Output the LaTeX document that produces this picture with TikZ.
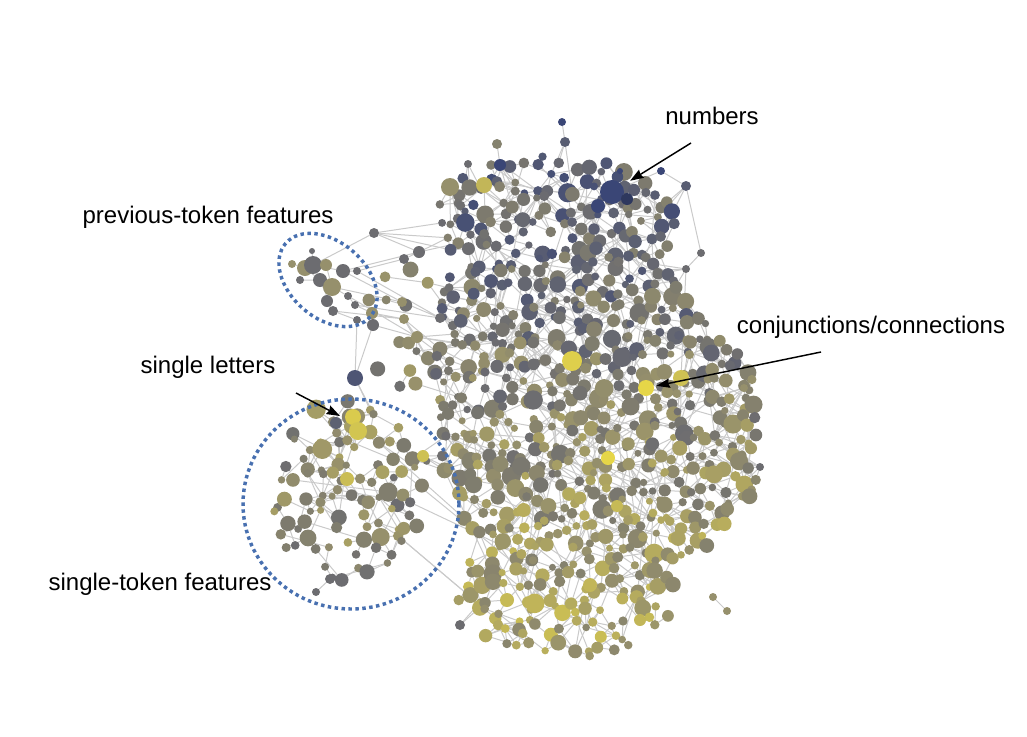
\documentclass[tikz,border=0pt]{standalone}
\usepackage{fontspec}
\setmainfont{Liberation Sans}
\usetikzlibrary{arrows.meta}

\definecolor{navyDot}{RGB}{58,70,118}
\definecolor{grayDot}{RGB}{108,108,112}
\definecolor{oliveDot}{RGB}{150,144,108}
\definecolor{yellowDot}{RGB}{230,214,72}
\definecolor{ringBlue}{RGB}{72,112,176}
\definecolor{linkGray}{RGB}{202,202,202}

\pgfdeclarelayer{background}
\pgfsetlayers{background,main}

\tikzset{%
	% Specifications for the graph:
	featureDot/.style = {circle, inner sep=0pt, outer sep=0pt, draw=none},
	linkLine/.style = {linkGray, line width=0.75pt},
	% Specifications for the annotations:
	clusterRing/.style = {ringBlue, line width=2.6pt, dash pattern=on 2.6pt off 2.6pt},
	calloutArrow/.style = {-{Stealth[length=10pt, width=7pt, inset=1pt]}, line width=1.1pt, black},
	labelText/.style = {font=\fontsize{18pt}{21pt}\selectfont, inner sep=0pt},
}

% links a node to some of the grid dots around a pixel position
\newcommand\tieTo[3]{%
	\pgfmathtruncatemacro\ti{round((#2-250)/12)}%
	\pgfmathtruncatemacro\tj{round((#3-130)/12)}%
	\foreach \di/\dj in {0/0,1/0,0/1,-1/0,0/-1,1/1,-1/-1,1/-1,-1/1,2/0,0/2,-2/0,0/-2}{%
		\pgfmathtruncatemacro\ni{\ti+\di}%
		\pgfmathtruncatemacro\nj{\tj+\dj}%
		\pgfmathtruncatemacro\go{rnd<0.45}%
		\ifnum\go=1 \ifcsname pgf@sh@ns@v-\ni-\nj\endcsname
			\draw[linkLine] (#1) -- (v-\ni-\nj);
		\fi\fi
	}}

\begin{document}
\begin{tikzpicture}[x=0.75pt, y=-0.75pt]
\useasboundingbox (0,0) rectangle (1027,736);
\pgfmathsetseed{42}

% dots on a jittered grid, kept inside the blobs
\foreach \i in {0,...,43}{
	\foreach \j in {0,...,45}{
		\pgfmathsetmacro\px{250+12*\i+12*(rnd-0.5)}
		\pgfmathsetmacro\py{130+12*\j+12*(rnd-0.5)}
		\pgfmathsetmacro\pkeep{max(0.75*(veclen((\px-555)/122,(\py-222)/68)<1),
			0.9*(veclen((\px-562)/132,(\py-305)/62)<1),
			0.88*(veclen((\px-472)/38,(\py-390)/95)<1),
			0.92*(veclen((\px-600)/165,(\py-435)/148)<1),
			0.85*(veclen((\px-568)/112,(\py-590)/68)<1),
			0.6*(veclen((\px-350)/82,(\py-490)/92)<1),
			0.22*(veclen((\px-405)/40,(\py-330)/75)<1))}
		\pgfmathtruncatemacro\keep{rnd<\pkeep}
		\ifnum\keep=1
			\pgfmathsetmacro\cc{min(max((\px<430)*1.7+(\px>=430)*(0.9+1.5*min(max((\py-230)/380,0),1))+1.4*(rnd-0.5),0),2.99)}
			\ifdim\cc pt<1pt
				\pgfmathtruncatemacro\pc{100*\cc}\edef\dotcol{grayDot!\pc!navyDot}
			\else\ifdim\cc pt<2pt
				\pgfmathtruncatemacro\pc{100*(\cc-1)}\edef\dotcol{oliveDot!\pc!grayDot}
			\else
				\pgfmathtruncatemacro\pc{65*(\cc-2)}\edef\dotcol{yellowDot!\pc!oliveDot}
			\fi\fi
			\pgfmathsetmacro\dd{1.5*(3.5+6.5*rnd*sqrt(rnd))}
			\node[featureDot, fill=\dotcol, minimum size=\dd pt] (v-\i-\j) at (\px,\py) {};
		\fi
	}
}

% dots placed by hand
\foreach \nm/\x/\y/\r/\col in {
	nb/612/192/12/navyDot, nb2/598/206/7/navyDot, nb3/627/199/6/navyDot!80!black,
	o1/562/122/4/navyDot, o2/565/142/5/grayDot!60!navyDot, o3/497/144/5/oliveDot!60!grayDot,
	o3b/500/165/6/navyDot, o4/468/164/4/grayDot, o5/661/171/4/navyDot, o6/686/186/5/grayDot!60!navyDot,
	o7/620/171/3/navyDot, o8/686/269/4/grayDot, o9/701/253/4/grayDot, o11/744/388/4/oliveDot,
	o12/760/467/4/grayDot, o13/713/597/4/oliveDot, o14/727/611/4/oliveDot, o15/460/625/5/grayDot,
	o16/316/592/4/grayDot, o17/330/579/5/grayDot, o18/374/233/5/grayDot,
	ty1/484/185/8/yellowDot!55!oliveDot, ty2/450/187/9/oliveDot,
	bn/355/378/8/navyDot!60!grayDot, sl1/353/417/8/yellowDot!85!oliveDot, sl2/358/431/9/yellowDot!75!oliveDot,
	sl3/336/423/6/grayDot!70!navyDot, ly1/423/456/6/yellowDot!70!oliveDot, ly2/347/479/7/yellowDot!65!oliveDot,
	yc/646/388/8/yellowDot, yc2/681/378/8/yellowDot!70!oliveDot, ym/572/361/10/yellowDot!90!oliveDot,
	ym2/608/458/7/yellowDot, ym3/617/506/6/yellowDot!60!oliveDot, ym4/507/600/7/yellowDot!60!oliveDot,
	ym5/590/585/7/yellowDot!55!oliveDot, ym6/640/620/6/yellowDot!55!oliveDot,
	p1/312/251/3/grayDot, p2/292/264/4/oliveDot, p3/305/268/8/oliveDot, p4/313/265/9/grayDot,
	p5/326/265/6/oliveDot, p6/300/280/4/grayDot, p7/320/280/7/grayDot, p8/332/287/9/oliveDot,
	p9/343/271/7/grayDot, p10/357/271/4/grayDot, p11/327/301/6/grayDot, p12/333/311/5/grayDot,
	p13/348/296/4/grayDot, p14/355/305/4/grayDot, p15/372/313/6/oliveDot, p16/357/320/4/grayDot,
	p17/373/325/6/grayDot, p18/404/259/5/grayDot, p19/419/252/6/grayDot, p20/402/302/5/oliveDot,
	p21/404/319/5/oliveDot, p22/417/337/6/oliveDot, p23/440/318/5/grayDot}{
	\pgfmathsetmacro\dd{1.5*\r}
	\node[featureDot, fill=\col, minimum size=\dd pt] (\nm) at (\x,\y) {};
}

% links behind the dots
\begin{pgfonlayer}{background}
\foreach \i in {0,...,43}{
	\foreach \j in {0,...,45}{
		\ifcsname pgf@sh@ns@v-\i-\j\endcsname
			\foreach \di/\dj/\q in {1/0/0.55, 0/1/0.55, 1/1/0.4, -1/1/0.4, 2/1/0.25, 1/2/0.25, -2/1/0.2, -1/2/0.2, 3/2/0.1, -1/4/0.08, 4/1/0.06}{
				\pgfmathtruncatemacro\ni{\i+\di}
				\pgfmathtruncatemacro\nj{\j+\dj}
				\pgfmathtruncatemacro\go{rnd<\q}
				\ifnum\go=1 \ifcsname pgf@sh@ns@v-\ni-\nj\endcsname
					\draw[linkLine] (v-\i-\j) -- (v-\ni-\nj);
				\fi\fi
			}
		\fi
	}
}
% a few long links
\foreach \k in {1,...,260}{
	\pgfmathtruncatemacro\ia{rnd*43}
	\pgfmathtruncatemacro\ja{rnd*45}
	\pgfmathtruncatemacro\ib{\ia+round(20*(rnd-0.5))}
	\pgfmathtruncatemacro\jb{\ja+round(20*(rnd-0.5))}
	\ifcsname pgf@sh@ns@v-\ia-\ja\endcsname \ifcsname pgf@sh@ns@v-\ib-\jb\endcsname
		\draw[linkLine] (v-\ia-\ja) -- (v-\ib-\jb);
	\fi\fi
}
\draw[linkLine] (o1) -- (o2);
\draw[linkLine] (o3) -- (o3b);
\draw[linkLine] (o5) -- (o6) (o5) -- (nb) (o7) -- (nb) (o9) -- (o6);
\draw[linkLine] (o8) -- (o9) (o8) -- (yc2);
\draw[linkLine] (o13) -- (o14) (o16) -- (o17);
% previous-token cluster and its trail
\draw[linkLine] (p1) -- (p4) (p2) -- (p3) (p3) -- (p7) (p4) -- (p9) (p5) -- (p8) (p6) -- (p7)
	(p8) -- (p11) (p11) -- (p12) (p8) -- (p13) (p13) -- (p14) (p14) -- (p15) (p12) -- (p16)
	(p16) -- (p17) (p15) -- (p17) (p9) -- (p10) (p10) -- (p18) (p9) -- (p19) (p18) -- (p19)
	(p4) -- (o18) (p9) -- (p20) (p10) -- (p23) (p15) -- (p21) (p17) -- (p22) (p21) -- (p22)
	(p20) -- (p23) (p13) -- (p22) (p16) -- (bn) (p17) -- (bn) (o18) -- (p19) (p8) -- (p20)
	(p12) -- (p21) (p14) -- (p23) (p7) -- (p12);
\tieTo{o2}{565}{182}
\tieTo{o3b}{500}{192}
\tieTo{o4}{470}{190}
\tieTo{o6}{662}{216}
\tieTo{o8}{655}{290}
\tieTo{o11}{722}{400}
\tieTo{o12}{742}{465}
\tieTo{o13}{692}{570}
\tieTo{o15}{480}{610}
\tieTo{o17}{352}{560}
\tieTo{o18}{440}{245}
\foreach \nm/\x/\y in {nb/600/215, nb2/590/220, ty1/484/200, ty2/455/200, bn/370/390,
	sl1/355/425, sl2/360/440, sl3/335/430, ly1/425/465, ly2/350/485, yc/640/395, yc2/680/390,
	ym/572/370, ym2/608/465, ym3/617/512, ym4/507/600, ym5/590/585, ym6/635/615,
	p19/445/255, p22/445/340, p23/450/320, p21/440/360, bn/420/420}{
	\tieTo{\nm}{\x}{\y}
}
\end{pgfonlayer}

% rings round the clusters
\draw[clusterRing, rotate around={-41:(328,280)}] (328,280) ellipse [x radius=56, y radius=38];
\draw[clusterRing] (351,504) ellipse [x radius=108, y radius=105];

% labels and callouts
\node[labelText] (numbers) at (712,116) {numbers};
\node[labelText] (prevTok) at (208,217) {previous-token features};
\node[labelText] (conj) at (871,327) {conjunctions/connections};
\node[labelText] (letters) at (208,367) {single letters};
\node[labelText] (singleTok) at (160,584) {single-token features};

\coordinate (numFrom) at (691,143);
\coordinate (conjFrom) at (821,352);
\coordinate (letFrom) at (296,393);
\coordinate (letTip) at (340,416);
\draw[calloutArrow, shorten >=7pt] (numFrom) -- (nb);
\draw[calloutArrow, shorten >=2pt] (conjFrom) -- (yc);
\draw[calloutArrow] (letFrom) -- (letTip);
\end{tikzpicture}
\end{document}
